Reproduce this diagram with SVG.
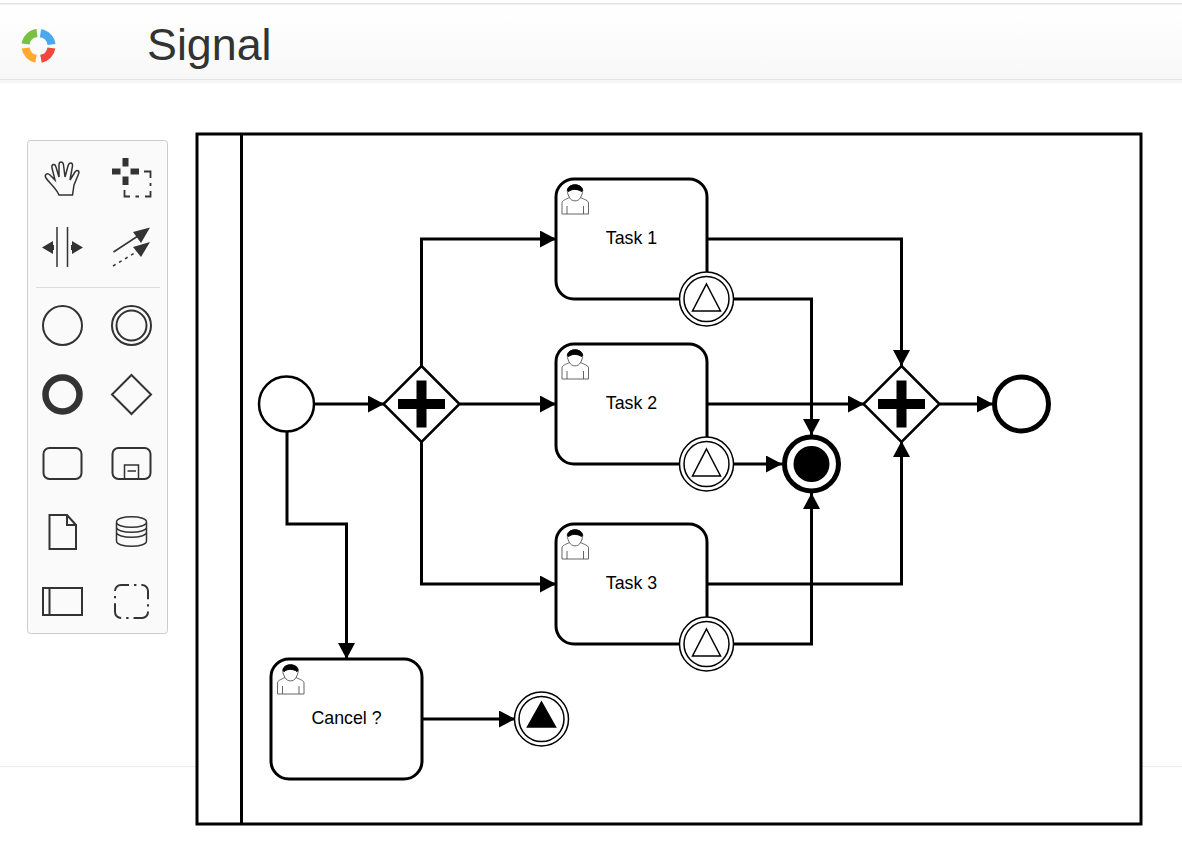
<svg xmlns="http://www.w3.org/2000/svg" width="1182" height="867" viewBox="0 0 1182 867">
<defs>
<linearGradient id="hd" x1="0" y1="0" x2="0" y2="1"><stop offset="0" stop-color="#ffffff"/><stop offset="1" stop-color="#f8f8f8"/></linearGradient>
<marker id="arr" markerUnits="userSpaceOnUse" markerWidth="17" markerHeight="18" refX="16" refY="8.500" orient="auto"><path d="M0 0L16 8.500L0 17Z" fill="#000"/></marker>
<g id="user" fill="none" stroke="#555" stroke-width="0.900">
<path d="M0 24V13C0 10.500 3.500 9.500 7.500 7.500C5.500 4 4.800 1 5.500 -1C7 -6.500 19 -6.500 20.500 -1C21.200 1 20.500 4 18.500 7.500C22.500 9.500 26.500 10.500 26.500 13V24Z" fill="#fff"/>
<path d="M5 24V16M21.500 24V16M7.500 7.500C9.500 12 16.500 12 18.500 7.500"/>
<path d="M5.500 0C6.500 -7 19.500 -7 20.500 0C20 2 19 2 18 0.500C14 -1 11 -1 8 0.500C7 2 6 2 5.500 0Z" fill="#000" stroke="#000"/>
</g>
<g id="bnd"><circle r="27" fill="#fff" stroke="#000" stroke-width="1.500"/><circle r="22.500" fill="#fff" stroke="#000" stroke-width="1.500"/><path d="M0 -15L14 12H-14Z" fill="#fff" stroke="#000" stroke-width="1.500"/></g>
<g id="plus"><path d="M0 -38L38 0L0 38L-38 0Z" fill="#fff" stroke="#000" stroke-width="2.500"/><path d="M-5 -23.500H5V-5H23.500V5H5V23.500H-5V5H-23.500V-5H-5Z" fill="#000"/></g>
</defs>
<style>
.task{fill:#fff;stroke:#000;stroke-width:3}
.lbl{font-family:"Liberation Sans",Arial,sans-serif;font-size:17.800px;fill:#000;text-anchor:middle}
.flow{fill:none;stroke:#000;stroke-width:3;marker-end:url(#arr)}
.ic{fill:none;stroke:#333}
.icf{fill:#333;stroke:none}
</style>
<rect width="1182" height="867" fill="#fff"/>
<g id="page">
<rect x="0" y="3" width="1182" height="1.500" fill="#e2e2e2"/>
<rect x="0" y="5" width="1182" height="74" fill="url(#hd)"/>
<rect x="0" y="79" width="1182" height="1" fill="#e4e4e4"/>
<rect x="0" y="80" width="1182" height="3" fill="#f7f7f7"/>
<rect x="0" y="766" width="1182" height="1" fill="#ececec"/>
</g>
<g id="logo" fill="none" stroke-width="8">
<path d="M25.600 44A13 13 0 0 1 37 33.100" stroke="#7ac143"/>
<path d="M40.500 33.200A13 13 0 0 1 51.500 44.500" stroke="#4aa8ec"/>
<path d="M51.400 48A13 13 0 0 1 41 58.800" stroke="#f0483e"/>
<path d="M36 58.800A13 13 0 0 1 25.600 48" stroke="#ffa92f"/>
</g>
<text id="title" x="147" y="60" font-family="'Liberation Sans',Arial,sans-serif" font-size="44.800" fill="#333">Signal</text>
<g id="toolbar" stroke-width="2">
<rect x="27.500" y="140.500" width="140" height="493" rx="3" fill="#fafafa" stroke="#ccc" stroke-width="1"/>
<rect x="36" y="287" width="124" height="1" fill="#ddd"/>
<path class="ic" stroke-width="1.500" d="M59 195C56 188 50 184 46 178C44 175 47 172 50 175L55 180L52 168C51 164 55 163 56 167L59 177L59 165C59 161 63 161 63.500 165L65 177L68 166C69 162 73 162 72.500 166L70 180L75 172C77 169 80 171 78.500 174L74 185L72.500 195Z"/>
<path class="icf" d="M122.500 158H128.500V166.500H122.500ZM122.500 176.500H128.500V185H122.500ZM112 168.500H120.500V174.500H112ZM130.500 168.500H139V174.500H130.500Z"/>
<path class="ic" stroke-width="1.800" d="M144 171.500H150.500V178M150.500 183V186M150.500 191V196.500H145M139 196.500H135.500M130 196.500H124.500V190"/>
<path class="ic" stroke-width="1.500" d="M57 227V267M67.500 227V267"/>
<path class="icf" d="M42 247.500L53 241V245H54V250H53V254ZM83 247.500L72 241V245H71V250H72V254Z"/>
<path class="ic" stroke-width="1.500" d="M113.500 252L138 236"/>
<path class="icf" d="M150 227.500L133 232L141 243Z"/>
<path class="ic" stroke-width="1.500" stroke-dasharray="3 4" d="M113 266L138 251"/>
<path class="icf" d="M150 242L133 247L141 257Z"/>
<circle class="ic" cx="62.500" cy="325.500" r="19.500"/>
<circle class="ic" cx="131.500" cy="325.500" r="19.500"/><circle class="ic" cx="131.500" cy="325.500" r="15"/>
<circle class="ic" cx="62.500" cy="394.500" r="17" stroke-width="6.500"/>
<path class="ic" d="M131.500 375L151 394.500L131.500 414L112 394.500Z"/>
<rect class="ic" x="43.500" y="448" width="38" height="31" rx="6"/>
<rect class="ic" x="112.500" y="448" width="38" height="31" rx="6"/>
<path class="ic" stroke-width="1.500" d="M124.500 479V465H138.500V479M127.500 471H136"/>
<path class="ic" d="M49.500 515H67L76 525V549H49.500ZM67 515V525H76"/>
<path class="ic" stroke-width="1.500" d="M116.500 522V541C116.500 548 146.500 548 146.500 541V522C146.500 515 116.500 515 116.500 522C116.500 529 146.500 529 146.500 522M116.500 527C116.500 534 146.500 534 146.500 527M116.500 532C116.500 539 146.500 539 146.500 532"/>
<rect class="ic" x="43" y="588" width="39" height="27"/><path class="ic" d="M49.500 588V615"/>
<rect class="ic" x="115" y="585" width="33" height="33" rx="6" stroke-dasharray="18 5 2.400 5" stroke-dashoffset="10"/>
</g>
<g id="pool"><rect x="197" y="134" width="944" height="690" fill="#fff" stroke="#000" stroke-width="3"/><path d="M241.500 134V824" stroke="#000" stroke-width="3"/></g>
<g id="connectors">
<path class="flow" d="M314 404H384"/>
<path class="flow" d="M421.500 366V239H556"/>
<path class="flow" d="M460 404H556"/>
<path class="flow" d="M421.500 442V584H556"/>
<path class="flow" d="M287 431V524H346.500V659"/>
<path class="flow" d="M707 239H901.500V366"/>
<path class="flow" d="M707 404H864"/>
<path class="flow" d="M707 584H901.500V441"/>
<path class="flow" d="M733 299H811.500V435"/>
<path class="flow" d="M733 464H782"/>
<path class="flow" d="M733 644H811.500V493"/>
<path class="flow" d="M422 719H515"/>
<path class="flow" d="M940 404H993"/>
</g>
<g id="start"><circle cx="286.500" cy="404" r="27.500" fill="#fff" stroke="#000" stroke-width="2.500"/></g>
<g id="gw1"><use href="#plus" x="421.500" y="404"/></g>
<g id="gw2"><use href="#plus" x="901.500" y="404"/></g>
<g id="task1"><rect class="task" x="556" y="179" width="151" height="120" rx="18"/><use href="#user" x="562" y="190"/><text class="lbl" x="631.500" y="244">Task 1</text></g>
<g id="task2"><rect class="task" x="556" y="344" width="151" height="120" rx="18"/><use href="#user" x="562" y="355"/><text class="lbl" x="631.500" y="409">Task 2</text></g>
<g id="task3"><rect class="task" x="556" y="524" width="151" height="120" rx="18"/><use href="#user" x="562" y="535"/><text class="lbl" x="631.500" y="589">Task 3</text></g>
<g id="cancel"><rect class="task" x="271" y="659" width="151" height="120" rx="18"/><use href="#user" x="277.500" y="670"/><text class="lbl" x="346.500" y="724">Cancel ?</text></g>
<g id="b1"><use href="#bnd" x="706.500" y="299"/></g>
<g id="b2"><use href="#bnd" x="706.500" y="464"/></g>
<g id="b3"><use href="#bnd" x="706.500" y="644"/></g>
<g id="signalEnd"><circle cx="541.500" cy="719" r="27" fill="#fff" stroke="#000" stroke-width="1.500"/><circle cx="541.500" cy="719" r="22.500" fill="#fff" stroke="#000" stroke-width="1.500"/><path d="M541.500 702L555.500 727H527.500Z" fill="#000" stroke="#000" stroke-width="1.500"/></g>
<g id="terminate"><circle cx="811.500" cy="464" r="27" fill="#fff" stroke="#000" stroke-width="5"/><circle cx="811.500" cy="464" r="18" fill="#000"/></g>
<g id="end"><circle cx="1021.500" cy="404" r="27" fill="#fff" stroke="#000" stroke-width="5"/></g>
</svg>
